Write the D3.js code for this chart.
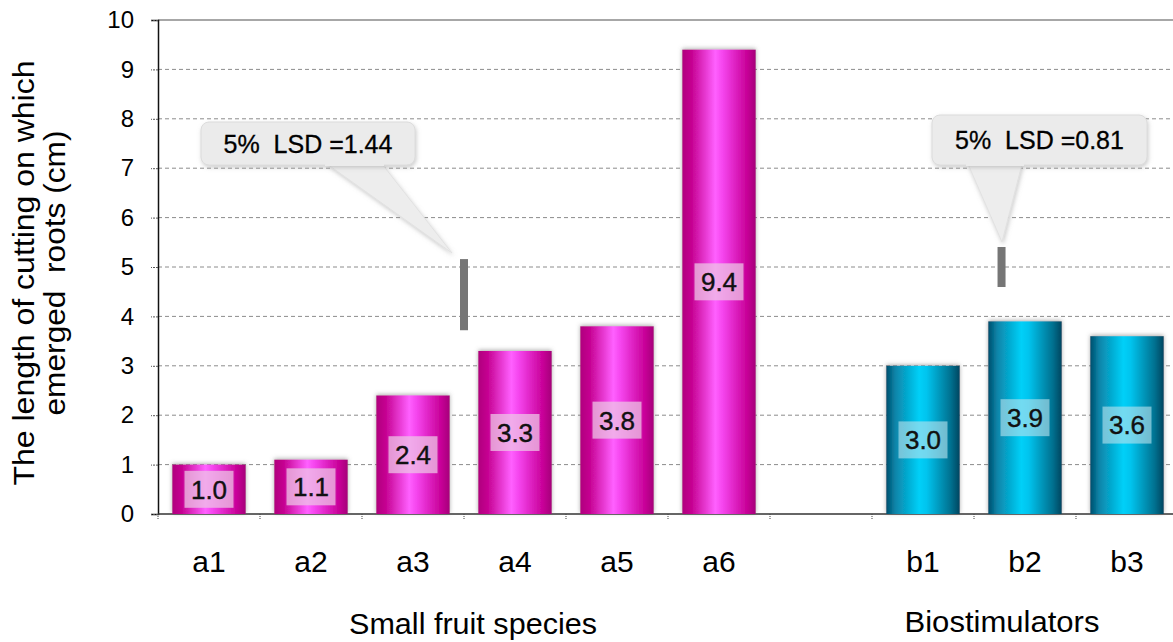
<!DOCTYPE html>
<html>
<head>
<meta charset="utf-8">
<script src="https://cdn.jsdelivr.net/npm/d3@7/dist/d3.min.js"></script>
<style>
  html, body { margin: 0; padding: 0; background: #fff; }
  svg { display: block; font-family: "Liberation Sans", Arial, sans-serif; }
</style>
</head>
<body>
<svg id="chart" width="1173" height="642"></svg>
<script>
// ---- data ----
const categories = ["a1", "a2", "a3", "a4", "a5", "a6", "", "b1", "b2", "b3"];
const speciesCats = ["a1", "a2", "a3", "a4", "a5", "a6"];
const speciesValues = [1.0, 1.1, 2.4, 3.3, 3.8, 9.4];
const stimCats = ["b1", "b2", "b3"];
const stimValues = [3.0, 3.9, 3.6];
const yTicks = [0, 1, 2, 3, 4, 5, 6, 7, 8, 9, 10];
const groupTitles = ["Small fruit species", "Biostimulators"];
// LSD bars: value (bar length), centre on the y scale, position in category slots
const lsdValues = [1.44, 0.81];
const lsdCentres = [4.44, 5.0];
const lsdSlots = [3.0, 8.27];

// ---- layout ----
const svg = d3.select("#chart");
const plotLeft = 158, plotRight = 1178, plotTop = 20, plotBottom = 514;

const x = d3.scaleBand().domain(categories).range([plotLeft, plotRight])
  .paddingInner(0.28).paddingOuter(0.14);
const y = d3.scaleLinear().domain([0, 10]).range([plotBottom, plotTop]);
const slot = s => plotLeft + s * x.step();

const defs = svg.append("defs");

function barGradient(id, stops) {
  const g = defs.append("linearGradient").attr("id", id)
    .attr("x1", "0%").attr("x2", "100%").attr("y1", "0%").attr("y2", "0%");
  stops.forEach(([o, c]) => g.append("stop").attr("offset", o).attr("stop-color", c));
}
barGradient("pinkGrad", [["0%", "#b0007e"], ["12%", "#c4008f"], ["45%", "#ff60ff"],
  ["55%", "#f545ee"], ["88%", "#c80098"], ["100%", "#a6007a"]]);
barGradient("blueGrad", [["0%", "#004e6c"], ["12%", "#0a84a8"], ["45%", "#00d0f8"],
  ["55%", "#00c4ee"], ["88%", "#00708f"], ["100%", "#004660"]]);

const shadow = defs.append("filter").attr("id", "barShadow")
  .attr("x", "-20%").attr("y", "-20%").attr("width", "140%").attr("height", "140%");
shadow.append("feDropShadow").attr("dx", 0).attr("dy", -1).attr("stdDeviation", 2)
  .attr("flood-color", "#666").attr("flood-opacity", 0.55);

const boxShadow = defs.append("filter").attr("id", "boxShadow")
  .attr("x", "-10%").attr("y", "-20%").attr("width", "120%").attr("height", "150%");
boxShadow.append("feDropShadow").attr("dx", 1).attr("dy", 2).attr("stdDeviation", 2)
  .attr("flood-color", "#999").attr("flood-opacity", 0.5);

// ---- gridlines ----
svg.append("g").selectAll("line").data(yTicks.filter(t => t > 0 && t < 10)).join("line")
  .attr("x1", plotLeft).attr("x2", 1173)
  .attr("y1", d => y(d)).attr("y2", d => y(d))
  .attr("stroke", "#8c8c8c").attr("stroke-width", 1).attr("stroke-dasharray", "4,3");
svg.append("line").attr("x1", plotLeft).attr("x2", 1173).attr("y1", y(10)).attr("y2", y(10))
  .attr("stroke", "#8a8a8a").attr("stroke-width", 1.5);

// ---- y axis ----
const yAxis = d3.axisLeft(y).tickValues(yTicks).tickSize(7).tickPadding(17)
  .tickFormat(d3.format("d"));
const gy = svg.append("g").attr("transform", `translate(${plotLeft},0)`).call(yAxis);
gy.select(".domain").attr("stroke", "#111").attr("stroke-width", 1.5);
gy.selectAll(".tick line").attr("stroke", "#555").attr("stroke-dasharray", "2,1");
gy.selectAll(".tick text").attr("font-size", 24).attr("fill", "#000")
  .attr("font-family", "Liberation Sans, Arial, sans-serif");

// ---- x axis (ticks between categories) ----
const boundaries = d3.range(categories.length + 1).map(i => slot(i));
svg.append("line").attr("x1", plotLeft).attr("x2", 1173).attr("y1", plotBottom).attr("y2", plotBottom)
  .attr("stroke", "#333").attr("stroke-width", 1.5);
svg.append("g").selectAll("line").data(boundaries).join("line")
  .attr("x1", d => d).attr("x2", d => d).attr("y1", plotBottom).attr("y2", plotBottom + 6)
  .attr("stroke", "#444").attr("stroke-dasharray", "1,1");
svg.append("g").selectAll("text").data(categories.filter(c => c)).join("text")
  .attr("x", d => x(d) + x.bandwidth() / 2).attr("y", 572)
  .attr("text-anchor", "middle").attr("font-size", 30).attr("fill", "#000").text(d => d);

// ---- bars ----
function drawBars(cats, vals, grad, labelFill, labelOpacity) {
  const data = cats.map((c, i) => ({ c, v: vals[i] }));
  const g = svg.append("g");
  g.selectAll("rect.bar").data(data).join("rect").attr("class", "bar")
    .attr("x", d => x(d.c)).attr("width", x.bandwidth())
    .attr("y", d => y(d.v)).attr("height", d => y(0) - y(d.v))
    .attr("fill", `url(#${grad})`).attr("filter", "url(#barShadow)");
  const lw = 49, lh = 37;
  g.selectAll("rect.lbl").data(data).join("rect").attr("class", "lbl")
    .attr("x", d => x(d.c) + x.bandwidth() / 2 - lw / 2)
    .attr("y", d => y(d.v / 2) - lh / 2).attr("width", lw).attr("height", lh)
    .attr("fill", labelFill).attr("fill-opacity", labelOpacity);
  g.selectAll("text").data(data).join("text")
    .attr("x", d => x(d.c) + x.bandwidth() / 2).attr("y", d => y(d.v / 2))
    .attr("dy", "0.36em").attr("text-anchor", "middle").attr("font-size", 26)
    .attr("fill", "#111").attr("stroke", "#111").attr("stroke-width", 0.4)
    .text(d => d3.format(".1f")(d.v));
}
drawBars(speciesCats, speciesValues, "pinkGrad", "#ecc4e4", 0.75);
drawBars(stimCats, stimValues, "blueGrad", "#b8e2ee", 0.62);

// ---- LSD bars ----
svg.append("g").selectAll("rect").data(lsdValues).join("rect")
  .attr("x", (d, i) => slot(lsdSlots[i]) - 4).attr("width", 8)
  .attr("y", (d, i) => y(lsdCentres[i] + d / 2))
  .attr("height", (d, i) => y(lsdCentres[i] - d / 2) - y(lsdCentres[i] + d / 2))
  .attr("fill", "#767676");

// ---- callouts ----
const callouts = [
  { text: "5%  LSD =1.44", box: [201, 122, 214, 43], base: [327, 382], tip: [452, 253] },
  { text: "5%  LSD =0.81", box: [932, 115, 215, 50], base: [968, 1022], tip: [1002, 242] }
];
callouts.forEach(c => {
  const [bx, by, bw, bh] = c.box;
  const g = svg.append("g");
  g.append("path")
    .attr("d", `M${c.base[0]},${by + bh - 1} L${c.tip[0]},${c.tip[1]} L${c.base[1]},${by + bh - 1} Z`)
    .attr("fill", "#ededed").attr("stroke", "#e2e2e2").attr("stroke-width", 1)
    .attr("filter", "url(#boxShadow)");
  g.append("rect").attr("x", bx).attr("y", by).attr("width", bw).attr("height", bh)
    .attr("rx", 8).attr("fill", "#ebebeb").attr("stroke", "#dcdcdc")
    .attr("filter", "url(#boxShadow)");
  g.append("rect").attr("x", c.base[0] - 2).attr("y", by + bh - 6)
    .attr("width", c.base[1] - c.base[0] + 4).attr("height", 7).attr("fill", "#ebebeb");
  g.append("text").attr("x", bx + bw / 2).attr("y", by + bh / 2).attr("dy", "0.36em")
    .attr("text-anchor", "middle").attr("font-size", 25).attr("fill", "#000")
    .attr("stroke", "#000").attr("stroke-width", 0.3)
    .style("white-space", "pre").text(c.text);
});

// ---- group titles ----
svg.append("text").attr("x", 473).attr("y", 634).attr("text-anchor", "middle")
  .attr("font-size", 29).attr("textLength", 248).attr("lengthAdjust", "spacingAndGlyphs")
  .attr("fill", "#000").text(groupTitles[0]);
svg.append("text").attr("x", 1002).attr("y", 632).attr("text-anchor", "middle")
  .attr("font-size", 29).attr("textLength", 195).attr("lengthAdjust", "spacingAndGlyphs")
  .attr("fill", "#000").text(groupTitles[1]);

// ---- y title ----
const yt = svg.append("text").attr("transform", "translate(0,273) rotate(-90)")
  .attr("text-anchor", "middle").attr("font-size", 30).attr("fill", "#000");
yt.append("tspan").attr("x", 0).attr("y", 34)
  .attr("textLength", 425).attr("lengthAdjust", "spacingAndGlyphs")
  .text("The length of cutting on which");
yt.append("tspan").attr("x", 0).attr("y", 65).style("white-space", "pre")
  .attr("textLength", 285).attr("lengthAdjust", "spacingAndGlyphs")
  .text("emerged  roots (cm)");
</script>
</body>
</html>
